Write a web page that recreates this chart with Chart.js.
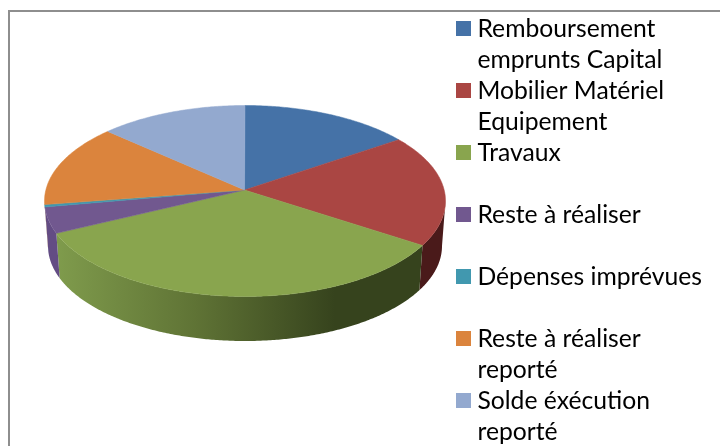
<!DOCTYPE html>
<html lang="fr">
<head>
<meta charset="utf-8">
<style>
html,body{margin:0;padding:0;background:#fff;overflow:hidden;width:720px;height:446px}
canvas{display:block}
</style>
<script src="https://cdn.jsdelivr.net/npm/chart.js@4"></script>
</head>
<body>
<canvas id="c" width="720" height="470"></canvas>
<script>
const categories = ['Remboursement emprunts Capital','Mobilier Matériel Equipement','Travaux','Reste à réaliser','Dépenses imprévues','Reste à réaliser reporté','Solde éxécution reporté'];
const legendLines = [['Remboursement','emprunts Capital'],['Mobilier Matériel','Equipement'],['Travaux',''],['Reste à réaliser',''],['Dépenses imprévues',''],['Reste à réaliser','reporté'],['Solde éxécution','reporté']];
const values = [13.9,18.8,36.8,4.5,0.4,13.6,12.0];
const colors = ['#4572a7','#aa4643','#89a54e','#71588f','#4198af','#db843d','#93a9cf'];

const top3d = {cx:245, cy:201, rx:200.5, ry:95.5, ax:244.5, ay:190};
const bot3d = {cx:245, cy:246, rx:197, ry:95};
function pt(e,t){return [e.cx+e.rx*Math.sin(t), e.cy-e.ry*Math.cos(t)];}
function traceArc(ctx,e,a,b,first){
  const n=Math.max(2,Math.ceil(Math.abs(b-a)/0.01));
  for(let i=0;i<=n;i++){
    const p=pt(e,a+(b-a)*i/n);
    if(i===0&&first) ctx.moveTo(p[0],p[1]); else ctx.lineTo(p[0],p[1]);
  }
}
function wallFill(ctx,i){
  if(i===2){
    const g=ctx.createLinearGradient(57,0,335,0);
    g.addColorStop(0,'#7f9b4c');g.addColorStop(0.5,'#5f7335');g.addColorStop(1,'#36431d');
    return g;
  }
  if(i===1) return '#4a1a1a';
  if(i===3) return '#634c84';
  if(i===4) return '#3d8da3';
  return colors[i];
}
function swatch(color){
  const c=document.createElement('canvas');
  c.width=15;c.height=15;
  const x=c.getContext('2d');
  x.fillStyle=color;x.fillRect(0,0,15,15);
  return c;
}
const pie3d = {
  id:'pie3d',
  afterLayout(chart){
    const l=chart.legend;
    if(l&&!l.noClip){ l.noClip=true; l.draw=function(){ this._draw(); }; }
  },
  beforeDraw(chart){
    const ctx=chart.ctx;
    ctx.save();
    ctx.fillStyle='#fff';ctx.fillRect(0,0,chart.width,chart.height);
    ctx.strokeStyle='#8e8e8e';ctx.lineWidth=2;
    ctx.beginPath();ctx.moveTo(720,11);ctx.lineTo(9,11);ctx.lineTo(9,470);ctx.stroke();
    ctx.restore();
  },
  beforeDatasetsDraw(chart){
    const ctx=chart.ctx, arcs=chart.getDatasetMeta(0).data;
    ctx.save();
    const lim0=Math.PI/2, lim1=Math.PI*1.5;
    const spans=arcs.map(a=>[a.startAngle+Math.PI/2,a.endAngle+Math.PI/2]);
    spans.forEach((s,i)=>{
      const a=Math.max(s[0],lim0), b=Math.min(s[1],lim1);
      if(b<=a) return;
      ctx.beginPath();
      traceArc(ctx,top3d,a,b,true);
      traceArc(ctx,bot3d,b,a,false);
      ctx.closePath();
      ctx.fillStyle=wallFill(ctx,i);
      ctx.fill();
    });
    spans.forEach((s,i)=>{
      ctx.beginPath();
      ctx.moveTo(top3d.ax,top3d.ay);
      traceArc(ctx,top3d,s[0],s[1],false);
      ctx.closePath();
      ctx.fillStyle=colors[i];
      ctx.strokeStyle=colors[i];
      ctx.lineWidth=0.5;
      ctx.fill();ctx.stroke();
    });
    ctx.restore();
    return false;
  }
};
new Chart(document.getElementById('c'),{
  type:'pie',
  data:{labels:categories,datasets:[{data:values,backgroundColor:colors,borderWidth:0}]},
  options:{
    responsive:false,animation:false,
    layout:{padding:{top:16.5,right:8,left:0,bottom:0}},
    plugins:{
      tooltip:{enabled:false},
      legend:{
        position:'right',align:'start',
        labels:{
          color:'#000',padding:0,boxWidth:2.3,boxHeight:15,usePointStyle:true,
          font:{family:'Lato',size:24.7,lineHeight:'31px'},
          generateLabels(){return legendLines.map((t,i)=>({text:t,fillStyle:colors[i],strokeStyle:colors[i],lineWidth:0,pointStyle:swatch(colors[i]),index:i,hidden:false}));}
        }
      }
    }
  },
  plugins:[pie3d]
});
</script>
</body>
</html>
